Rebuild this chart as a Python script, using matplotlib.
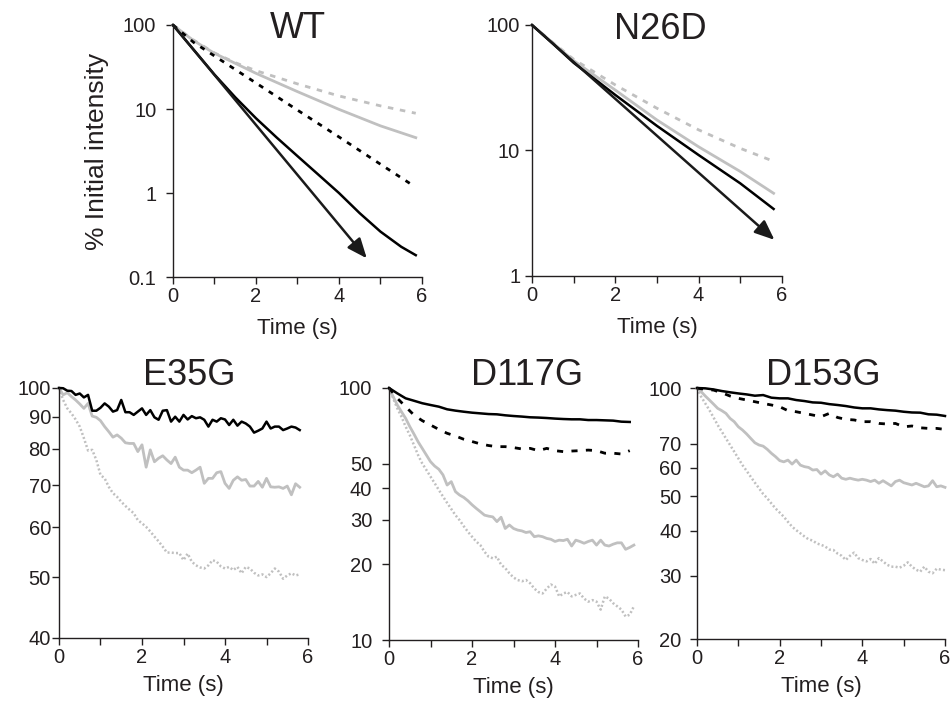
import numpy as np
import matplotlib
matplotlib.use('Agg')
import matplotlib.pyplot as plt

plt.rcParams['font.family'] = ['Liberation Sans', 'DejaVu Sans']

INK = '#231f20'
GREY = '#c0c0c0'

# ---- top row: fitted decays (time in s, % initial intensity) ----
wt_t = [0, 0.5, 1, 1.5, 2, 3, 4, 5, 5.85]
wt_grey_dash = [100, 66, 46.5, 35.6, 28.6, 19.9, 14.3, 10.9, 8.9]
wt_grey = [100, 65, 46, 35, 26.6, 16.1, 9.9, 6.3, 4.56]
wt_black_t = [0, 0.5, 1, 1.5, 2, 2.5, 3, 3.5, 4, 4.5, 5, 5.5, 5.85]
wt_black = [100, 50.7, 25.7, 13.8, 7.76, 4.57, 2.75, 1.66, 1.0, 0.575, 0.347, 0.229, 0.182]
wt_black_dash_t = [0, 0.5, 1, 2, 3, 4, 5, 5.72]
wt_black_dash = [100, 62, 42.8, 20.4, 9.7, 4.65, 2.2, 1.29]
wt_arrow_tip = (4.67, 0.167)

n26_t = [0, 0.5, 1, 2, 3, 4, 5, 5.8]
n26_grey_dash = [100, 72.5, 53.3, 33.3, 21.7, 14.6, 10.4, 8.2]
n26_grey = [100, 72, 52, 30.3, 17.5, 10.7, 6.8, 4.56]
n26_black = [100, 71, 50, 27.7, 15.7, 9.2, 5.47, 3.42]
n26_arrow_tip = (5.82, 1.94)

# ---- bottom row: measured traces ----
t_e35 = np.round(np.arange(0, 5.85, 0.1), 1)
e35_black = [100, 99.9, 99.0, 98.9, 97.5, 98.0, 96.6, 97.5, 92.0, 92.0,
             93.0, 94.5, 93.4, 91.7, 92.2, 95.7, 91.5, 91.5, 90.6, 91.7,
             92.8, 90.6, 92.2, 89.8, 89.0, 92.0, 92.2, 88.4, 90.0, 88.4,
             90.6, 89.1, 90.2, 89.5, 89.8, 89.0, 86.8, 89.0, 88.4, 89.5,
             89.1, 87.3, 89.0, 87.1, 88.4, 87.8, 86.8, 84.9, 85.5, 86.2,
             88.4, 86.2, 86.8, 86.8, 85.7, 86.2, 86.8, 86.5, 85.7]
e35_grey = [100, 97.5, 98.3, 96.9, 95.7, 94.3, 92.8, 94.5, 90.2, 89.8,
            88.7, 86.8, 85.2, 83.5, 84.2, 83.2, 81.8, 81.6, 81.6, 79.2,
            81.2, 74.8, 79.7, 76.3, 77.3, 78.0, 76.8, 75.8, 77.6, 74.8,
            74.0, 74.0, 73.3, 74.0, 74.8, 70.5, 71.8, 71.8, 73.3, 73.6,
            70.5, 69.2, 71.3, 72.2, 71.3, 71.5, 69.8, 69.8, 71.0, 69.5,
            71.8, 69.6, 69.5, 69.6, 69.2, 69.8, 67.6, 70.4, 69.5]
e35_grey_dot = [100, 95.7, 92.8, 91.1, 89.1, 86.8, 83.2, 79.5, 79.7, 76.8,
                72.7, 71.8, 69.6, 68.0, 67.1, 65.9, 64.9, 64.0, 63.2, 61.6,
                60.9, 60.1, 59.1, 58.0, 57.0, 55.9, 54.7, 54.7, 54.6, 54.6,
                53.2, 54.5, 52.9, 52.2, 51.8, 51.6, 52.2, 53.2, 52.9, 52.0,
                51.6, 51.9, 51.3, 51.9, 50.7, 51.9, 51.6, 50.8, 50.3, 50.5,
                50.0, 50.7, 51.6, 51.0, 49.7, 50.3, 50.7, 50.3, 50.5]

t_d117 = np.round(np.arange(0, 5.95, 0.1), 1)
t_d117_coarse = np.round(np.arange(0, 5.85, 0.2), 1)
d117_black = [100, 95.2, 91.0, 89.0, 87.0, 85.6, 84.3, 82.3, 81.3, 80.5,
              79.8, 79.3, 78.8, 78.6, 77.9, 77.4, 77.0, 76.5, 76.3, 76.0,
              75.6, 75.3, 75.1, 75.1, 74.6, 74.6, 74.4, 74.2, 73.5, 73.3]
d117_black_dash = [100, 91.0, 84.3, 78.1, 74.2, 71.3, 68.5, 66.1, 64.5, 62.6,
                   61.3, 60.0, 59.1, 58.5, 58.5, 58.0, 57.3, 57.6, 56.4, 57.6,
                   56.4, 55.9, 56.2, 56.4, 56.7, 56.4, 55.1, 55.1, 54.7, 56.4]
d117_grey = [100, 92.4, 85.6, 80.5, 75.8, 70.3, 65.7, 61.2, 57.6, 54.2,
             51.0, 49.0, 47.6, 45.2, 41.2, 42.5, 38.8, 37.6, 36.8, 35.7,
             34.4, 33.3, 32.3, 31.3, 31.0, 30.8, 29.5, 30.7, 27.7, 28.6,
             27.7, 27.3, 27.1, 26.7, 26.9, 25.7, 25.9, 25.7, 25.3, 25.1,
             24.6, 24.9, 24.8, 25.1, 23.6, 24.9, 24.6, 24.2, 24.6, 24.9,
             23.8, 24.9, 23.8, 23.6, 24.0, 24.3, 24.3, 22.9, 23.3, 23.8]
d117_grey_dot = [100, 91.0, 83.0, 76.9, 70.3, 65.0, 59.4, 54.2, 50.2, 47.3,
                 44.5, 41.9, 39.4, 37.1, 35.0, 33.1, 31.3, 29.9, 28.3, 26.9,
                 25.7, 24.6, 23.8, 22.4, 21.4, 21.1, 21.4, 19.9, 19.3, 18.4,
                 17.7, 17.3, 17.1, 17.3, 16.8, 16.0, 15.5, 15.3, 16.0, 16.6,
                 16.3, 14.9, 15.3, 15.5, 14.9, 15.1, 15.3, 14.6, 14.2, 14.4,
                 14.2, 13.2, 14.9, 14.6, 14.0, 13.6, 13.2, 12.4, 12.6, 13.6]

t_d153 = np.round(np.arange(0, 6.05, 0.1), 1)
t_d153_coarse = np.round(np.arange(0, 6.05, 0.2), 1)
d153_black = [100, 99.8, 99.1, 98.1, 97.3, 96.6, 96.0, 95.2, 95.6, 94.0,
              93.6, 93.6, 92.6, 92.0, 91.2, 91.0, 90.2, 89.7, 89.1, 88.3,
              87.8, 87.8, 87.2, 86.8, 86.5, 85.9, 85.5, 85.4, 84.5, 84.3, 83.6]
d153_black_dash = [100, 99.1, 98.7, 97.0, 95.0, 93.6, 92.6, 91.6, 90.6, 89.7,
                   88.7, 86.5, 85.9, 85.0, 84.1, 83.2, 85.0, 82.8, 81.8, 81.5,
                   80.6, 80.6, 79.7, 79.4, 79.7, 78.0, 78.4, 77.5, 77.2, 77.2, 76.7]
d153_grey = [100, 97.7, 95.0, 92.6, 90.2, 87.8, 86.5, 85.0, 82.3, 80.6,
             78.0, 76.4, 74.5, 72.4, 70.4, 69.4, 68.9, 67.5, 65.8, 64.4,
             62.8, 62.3, 63.0, 61.4, 63.0, 61.0, 60.4, 60.1, 59.1, 59.3,
             57.6, 58.8, 57.3, 56.6, 57.6, 56.1, 55.7, 56.1, 55.7, 55.4,
             55.7, 55.4, 54.9, 55.4, 54.3, 55.2, 54.3, 53.4, 54.9, 55.4,
             54.5, 54.1, 53.7, 54.3, 53.7, 53.1, 53.4, 55.2, 53.1, 53.4, 52.9]
d153_grey_dot = [100, 94.6, 90.6, 86.8, 82.8, 78.9, 75.6, 72.4, 69.4, 66.5,
                 63.7, 61.0, 58.8, 56.6, 54.5, 52.6, 50.7, 49.3, 47.7, 46.2,
                 45.0, 43.8, 42.4, 41.1, 40.2, 39.4, 38.6, 37.9, 37.6, 36.9,
                 36.6, 36.2, 35.5, 35.4, 34.6, 34.1, 33.2, 34.1, 34.8, 33.6,
                 33.2, 32.9, 33.4, 32.4, 33.6, 32.9, 32.2, 31.8, 31.8, 31.6,
                 32.0, 32.7, 31.8, 31.2, 30.8, 31.8, 30.8, 30.5, 31.4, 31.2, 31.1]

# line styles
GREY_SOLID = dict(color=GREY, lw=2.0)
GREY_DASH = dict(color=GREY, lw=2.0, dashes=(2.0, 2.4))
GREY_DOT = dict(color=GREY, lw=1.8, dashes=(0.8, 0.9))
BLACK_SOLID = dict(color='black', lw=1.8)
BLACK_DASH = dict(color='black', lw=2.0, dashes=(1.8, 2.4))
BLACK_DASH2 = dict(color='black', lw=2.0, dashes=(2.2, 3.0))


def style_axes(ax, yticks, ylabels, ylim, ypad, xlab_y=-0.19):
    ax.set_yscale('log')
    ax.set_xlim(0, 6)
    ax.set_ylim(*ylim)
    ax.minorticks_off()
    ax.set_yticks(yticks, ylabels)
    ax.set_xticks(range(7), ['0', '', '2', '', '4', '', '6'])
    for s in ['top', 'right']:
        ax.spines[s].set_visible(False)
    for s in ['left', 'bottom']:
        ax.spines[s].set_color(INK)
        ax.spines[s].set_linewidth(1.0)
    ax.tick_params(direction='out', length=5, width=1.0, colors=INK, labelsize=14.5)
    ax.tick_params(axis='y', pad=ypad)
    ax.tick_params(axis='x', pad=2)
    ax.text(0.5, xlab_y, 'Time (s)', transform=ax.transAxes, ha='center',
            va='center', fontsize=16, color=INK)


def title(ax, name, x, y):
    ax.text(x, y, name, transform=ax.transAxes, ha='center', va='baseline',
            fontsize=26, color=INK)


def arrow(ax, tip):
    ax.annotate('', xy=tip, xytext=(0, 100), annotation_clip=False,
                arrowprops=dict(arrowstyle='-|>,head_length=0.6,head_width=0.25',
                                color='#1a1a1a', lw=1.8, mutation_scale=20,
                                shrinkA=0, shrinkB=0))


fig = plt.figure(figsize=(9.53, 7.04), dpi=100)

ax_wt = fig.add_axes([0.1815, 0.6065, 0.2613, 0.358])
ax_n26 = fig.add_axes([0.5582, 0.608, 0.2623, 0.3565])
ax_e35 = fig.add_axes([0.0619, 0.0938, 0.2613, 0.3551])
ax_d117 = fig.add_axes([0.4082, 0.0909, 0.2613, 0.358])
ax_d153 = fig.add_axes([0.7314, 0.0923, 0.2602, 0.3565])

# WT
ax_wt.plot(wt_t, wt_grey_dash, clip_on=False, **GREY_DASH)
ax_wt.plot(wt_t, wt_grey, clip_on=False, **GREY_SOLID)
ax_wt.plot(wt_black_dash_t, wt_black_dash, clip_on=False, **BLACK_DASH)
ax_wt.plot(wt_black_t, wt_black, clip_on=False, **BLACK_SOLID)
arrow(ax_wt, wt_arrow_tip)
style_axes(ax_wt, [0.1, 1, 10, 100], ['0.1', '1', '10', '100'], (0.1, 100), 7, -0.205)
title(ax_wt, 'WT', 0.5, 0.948)
fig.text(97 / 953, 1 - 151 / 704, '% Initial intensity', rotation=90,
         ha='center', va='center', fontsize=19, color=INK)

# N26D
ax_n26.plot(n26_t, n26_grey_dash, clip_on=False, **GREY_DASH)
ax_n26.plot(n26_t, n26_grey, clip_on=False, **GREY_SOLID)
ax_n26.plot(n26_t, n26_black, clip_on=False, **BLACK_SOLID)
arrow(ax_n26, n26_arrow_tip)
style_axes(ax_n26, [1, 10, 100], ['1', '10', '100'], (1, 100), 3.5, -0.205)
title(ax_n26, 'N26D', 0.512, 0.944)

# E35G
ax_e35.plot(t_e35, e35_grey_dot, clip_on=False, **GREY_DOT)
ax_e35.plot(t_e35, e35_grey, clip_on=False, **GREY_SOLID)
ax_e35.plot(t_e35, e35_black, clip_on=False, **BLACK_SOLID)
style_axes(ax_e35, [40, 50, 60, 70, 80, 90, 100],
           ['40', '50', '60', '70', '80', '90', '100'], (40, 100), 0.8)
title(ax_e35, 'E35G', 0.524, 1.012)

# D117G
ax_d117.plot(t_d117, d117_grey_dot, clip_on=False, **GREY_DOT)
ax_d117.plot(t_d117, d117_grey, clip_on=False, **GREY_SOLID)
ax_d117.plot(t_d117_coarse, d117_black_dash, clip_on=False, **BLACK_DASH2)
ax_d117.plot(t_d117_coarse, d117_black, clip_on=False, **BLACK_SOLID)
style_axes(ax_d117, [10, 20, 30, 40, 50, 100],
           ['10', '20', '30', '40', '50', '100'], (10, 100), 7)
title(ax_d117, 'D117G', 0.553, 1.012)

# D153G
ax_d153.plot(t_d153, d153_grey_dot, clip_on=False, **GREY_DOT)
ax_d153.plot(t_d153, d153_grey, clip_on=False, **GREY_SOLID)
ax_d153.plot(t_d153_coarse, d153_black_dash, clip_on=False, **BLACK_DASH2)
ax_d153.plot(t_d153_coarse, d153_black, clip_on=False, **BLACK_SOLID)
style_axes(ax_d153, [20, 30, 40, 50, 60, 70, 100],
           ['20', '30', '40', '50', '60', '70', '100'], (20, 100), 6)
title(ax_d153, 'D153G', 0.508, 1.012)

fig.savefig('out.png', dpi=100)
